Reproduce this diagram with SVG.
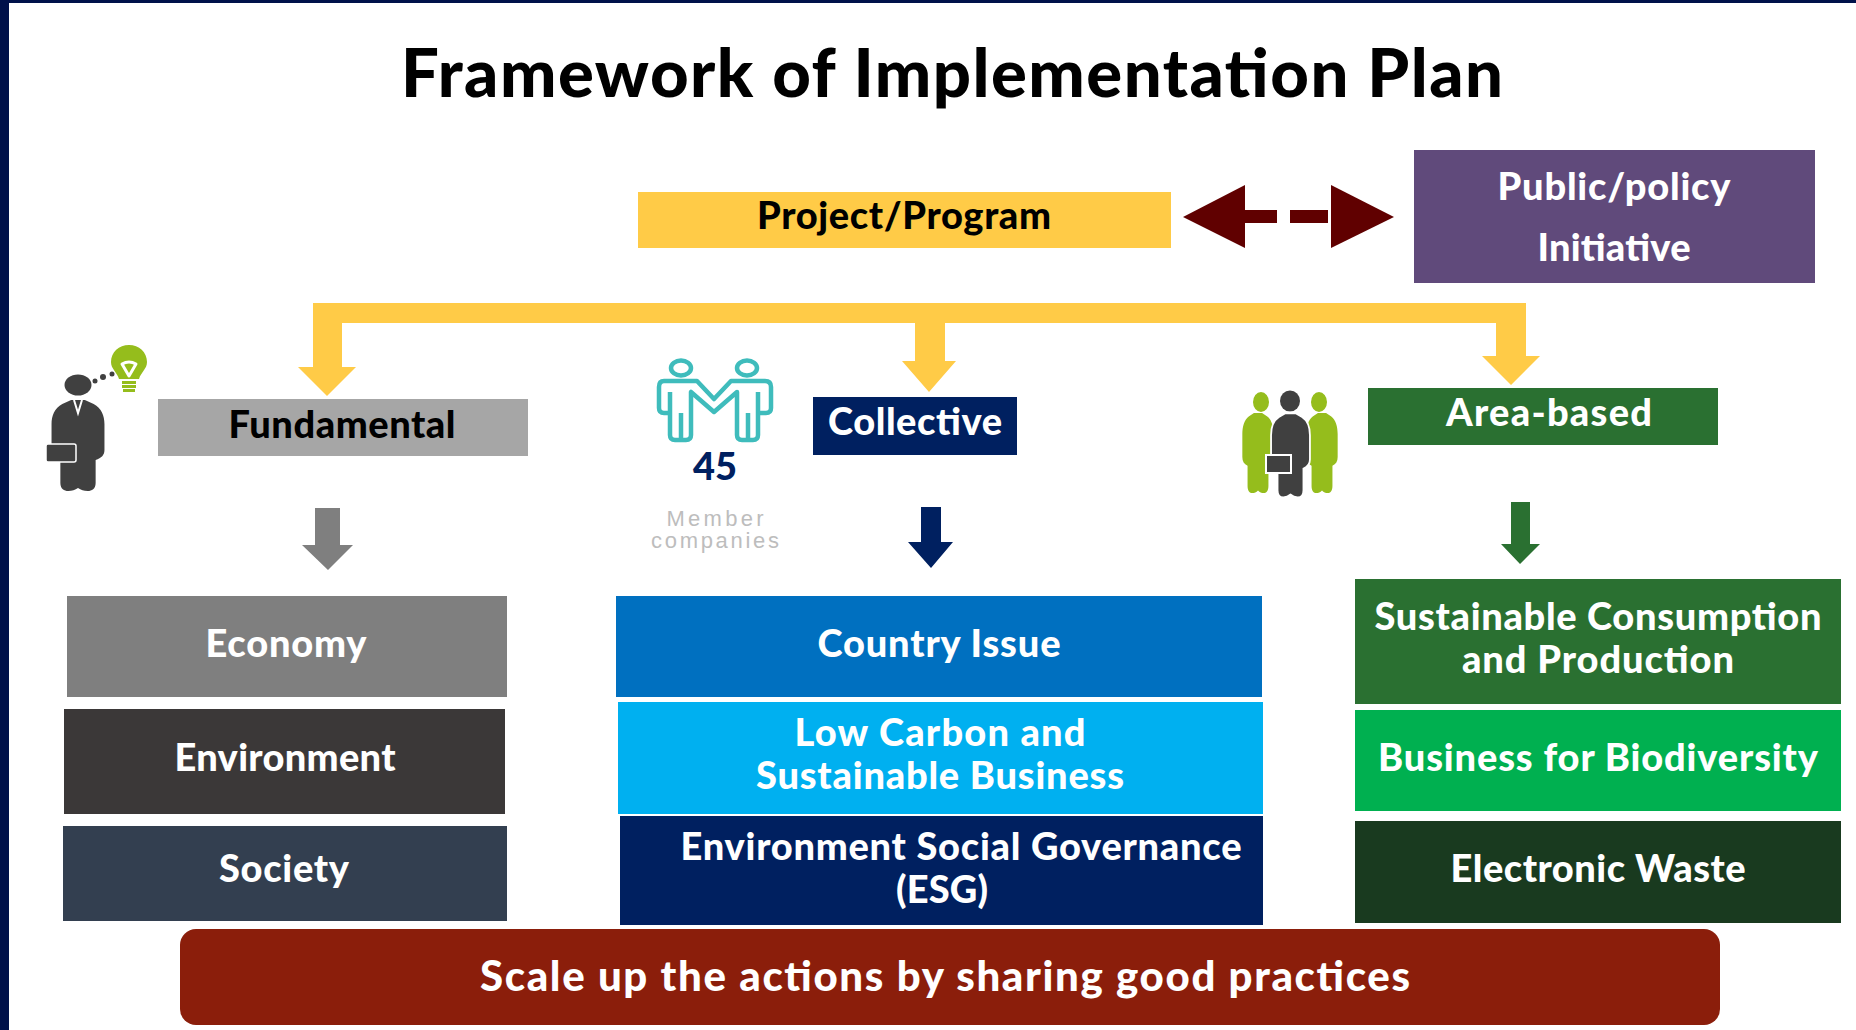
<svg xmlns="http://www.w3.org/2000/svg" width="1856" height="1030" viewBox="0 0 1856 1030">
<style>
text{font-family:"Lato","Noto Sans",sans-serif;font-weight:900;text-anchor:middle;fill:#fff;font-size:38px}
.k{fill:#000}
.y{fill:#ffcb47}
.d{fill:#404040}
.g{fill:#95bd1c}
.m{fill:#bdbdbd;font-family:"Liberation Sans",sans-serif;font-weight:400;font-size:22px}
</style>
<defs>
<path id="man" d="M-7 0H7L16 4C24 8 27 16 27 24V50C27 55 24 58 18 60V83C18 89 14 91 10 91C6 91 3 90 0 88C-3 90-6 91-10 91C-14 91-18 89-18 83V60C-24 58-27 55-27 50V24C-27 16-24 8-16 4Z"/>
</defs>
<rect width="1856" height="1030" fill="#fff"/>
<rect width="1856" height="3" fill="#00114a"/>
<rect width="9" height="1030" fill="#00114a"/>
<g id="title"><text x="952" y="97" style="font-size:67px" class="k" textLength="1102">Framework of Implementation Plan</text></g>
<g id="connectors">
<path class="y" d="M313 303H1526V356H1540L1511 385L1482 356H1496V323H342V367H356L327 396L298 367H313Z"/>
<path class="y" d="M915 323H945V361H956L929 392L902 361H915Z"/>
<path fill="#600000" d="M1183 217L1245 185V210H1277V223H1245V248Z"/>
<path fill="#600000" d="M1394 217L1331 185V248Z"/>
<rect x="1290" y="210" width="38" height="13" fill="#600000"/>
<path fill="#7f7f7f" d="M315 508H340V545H353L328 570L302 545H315Z"/>
<path fill="#002060" d="M921 507H941V542H953L931 568L908 542H921Z"/>
<path fill="#2a7031" d="M1511 502H1530V544H1540L1520 564L1501 544H1511Z"/>
</g>
<g id="project"><rect x="638" y="192" width="533" height="56" class="y"/><text x="904" y="229" class="k" textLength="294">Project/Program</text></g>
<g id="public"><rect x="1414" y="150" width="401" height="133" fill="#604a7b"/><text x="1614" y="200" textLength="233">Public/policy</text><text x="1614" y="261" textLength="153">Initiative</text></g>
<g id="fundamental"><rect x="158" y="399" width="370" height="57" fill="#a6a6a6"/><text x="342" y="438" class="k" textLength="227">Fundamental</text></g>
<g id="person-icon">
<ellipse cx="78" cy="385" rx="13.500" ry="10.500" class="d"/>
<use href="#man" transform="translate(78 400) scale(.98 1)" class="d"/>
<rect x="46" y="444" width="30" height="18" rx="2" fill="#404040" stroke="#fff" stroke-width="1.500"/>
<path d="M74 400L78 413L82 400" fill="none" stroke="#fff" stroke-width="2"/>
<circle cx="95" cy="381" r="2.500" fill="#404040"/><circle cx="103" cy="377" r="3" fill="#404040"/><circle cx="112" cy="374" r="2.500" fill="#404040"/>
<path class="g" d="M129 345C139 345 147 352 147 362C147 369 141 372 139 379H119C117 372 111 369 111 362C111 352 119 345 129 345Z"/>
<rect x="122" y="381" width="14" height="3" class="g"/><rect x="122" y="385" width="14" height="3" class="g"/><rect x="123" y="389" width="12" height="3" class="g"/>
<path d="M122 364Q129 360 136 364L129 376Z" fill="none" stroke="#fff" stroke-width="3" stroke-linejoin="round"/>
</g>
<g id="collective"><rect x="813" y="397" width="204" height="58" fill="#002060"/><text x="915" y="435" textLength="174">Collective</text></g>
<g id="members-icon">
<g fill="none" stroke="#3fbcbc" stroke-width="4.500" stroke-linejoin="round">
<ellipse cx="681" cy="368" rx="10" ry="7.500"/><ellipse cx="747" cy="368" rx="10" ry="7.500"/>
<path d="M670 413H664Q659 413 659 408V387Q659 381 664 381H697L714 399L731 381H765Q771 381 771 387V408Q771 413 766 413H758M758 392V435Q758 440 753 440H742Q737 440 737 435V392L714 412L691 392V435Q691 440 686 440H675Q670 440 670 435V392M681 413V438M748 413V438"/>
</g>
<text x="715" y="480" style="fill:#002060;font-size:38px">45</text>
<text x="715" y="526" class="m" textLength="97">Member</text>
<text x="715" y="548" class="m" textLength="128">companies</text>
</g>
<g id="area-based"><rect x="1368" y="388" width="350" height="57" fill="#2a7031"/><text x="1549" y="426" textLength="206">Area-based</text></g>
<g id="team-icon">
<ellipse cx="1261" cy="402" rx="8" ry="10" class="g"/><ellipse cx="1319" cy="402" rx="8" ry="10" class="g"/>
<use href="#man" transform="translate(1258 413) scale(.58 .88)" class="g"/>
<use href="#man" transform="translate(1322 413) scale(.58 .88)" class="g"/>
<ellipse cx="1290" cy="401" rx="10" ry="10.500" class="d"/>
<use href="#man" transform="translate(1290.500 413) scale(.72 .93)" class="d" stroke="#fff" stroke-width="2.500"/>
<rect x="1266" y="455" width="25" height="18" fill="#404040" stroke="#fff" stroke-width="2"/>
</g>
<g id="economy"><rect x="67" y="596" width="440" height="101" fill="#7f7f7f"/><text x="286" y="657" textLength="161">Economy</text></g>
<g id="environment"><rect x="64" y="709" width="441" height="105" fill="#3b3838"/><text x="285" y="771" textLength="221">Environment</text></g>
<g id="society"><rect x="63" y="826" width="444" height="95" fill="#333f50"/><text x="284" y="882" textLength="130">Society</text></g>
<g id="country"><rect x="616" y="596" width="646" height="101" fill="#0070c0"/><text x="939" y="657" textLength="243">Country Issue</text></g>
<g id="low-carbon"><rect x="618" y="702" width="645" height="112" fill="#00b0f0"/><text x="940" y="746" textLength="291">Low Carbon and</text><text x="940" y="789" textLength="368">Sustainable Business</text></g>
<g id="esg"><rect x="620" y="816" width="643" height="109" fill="#002060"/><text x="961" y="860" textLength="561">Environment Social Governance</text><text x="942" y="903" textLength="92">(ESG)</text></g>
<g id="scp"><rect x="1355" y="579" width="486" height="125" fill="#2a7031"/><text x="1598" y="630" textLength="447">Sustainable Consumption</text><text x="1598" y="673" textLength="272">and Production</text></g>
<g id="biodiversity"><rect x="1355" y="710" width="486" height="101" fill="#00b050"/><text x="1598" y="771" textLength="440">Business for Biodiversity</text></g>
<g id="waste"><rect x="1355" y="821" width="486" height="102" fill="#193a1f"/><text x="1598" y="882" textLength="295">Electronic Waste</text></g>
<g id="scale-up"><rect x="180" y="929" width="1540" height="96" rx="16" fill="#8b1e0b"/><text x="945" y="991" style="font-size:42px" textLength="930">Scale up the actions by sharing good practices</text></g>
</svg>
